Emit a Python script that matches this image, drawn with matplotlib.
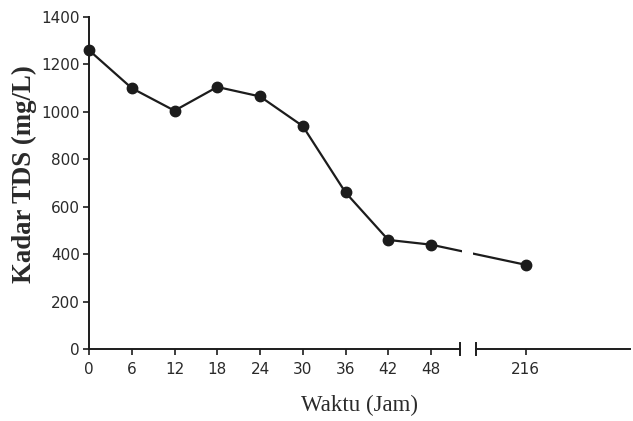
import numpy as np
import matplotlib.pyplot as plt

# data
waktu = [0, 6, 12, 18, 24, 30, 36, 42, 48, 216]
tds = [1260, 1100, 1005, 1105, 1065, 940, 660, 460, 440, 355]
xtick_labels = ["0", "6", "12", "18", "24", "30", "36", "42", "48", "216"]
yticks = [0, 200, 400, 600, 800, 1000, 1200, 1400]

# broken x axis: hours past 48 get shifted next to the break
BREAK_LO, BREAK_HI = 52.1, 54.3
POS_216 = 61.3
XMAX = 75.9


def ke_posisi(h):
    h = np.asarray(h, dtype=float)
    return np.where(h <= 48, h, h - 216 + POS_216)


warna = "#1c1c1c"
sans = ["DejaVu Sans"]
serif = ["Liberation Serif", "DejaVu Serif"]

fig = plt.figure(figsize=(6.33, 4.21), dpi=100)
ax = fig.add_axes([0.1406, 0.171, 0.995 - 0.1406, 0.9596 - 0.171])

x = ke_posisi(waktu)
ax.plot(x, tds, color=warna, lw=1.6, zorder=2, clip_on=False)
# gap in the line where the axis is broken
ax.axvspan(52.35, 53.9, ymin=0.05, ymax=1, color="white", zorder=3, lw=0)
ax.plot(x, tds, "o", color=warna, ms=7.5, zorder=4, clip_on=False)

ax.set_xlim(0, XMAX)
ax.set_ylim(0, 1400)

ax.spines["top"].set_visible(False)
ax.spines["right"].set_visible(False)
ax.spines["bottom"].set_visible(False)
ax.spines["left"].set_color(warna)
ax.spines["left"].set_linewidth(1.4)

# bottom axis drawn in two pieces with break marks
tr = ax.get_xaxis_transform()
kw = dict(color=warna, lw=1.4, transform=tr, clip_on=False, zorder=5)
ax.plot([0, BREAK_LO], [0, 0], **kw)
ax.plot([BREAK_HI, XMAX], [0, 0], **kw)
for bx in (BREAK_LO, BREAK_HI):
    ax.plot([bx, bx], [-0.018, 0.018], **kw)

ax.set_xticks(ke_posisi(waktu))
ax.set_xticklabels(xtick_labels, fontfamily=sans, fontsize=11, color="#2a2a2a")
ax.set_yticks(yticks)
ax.set_yticklabels([str(v) for v in yticks], fontfamily=sans, fontsize=11, color="#2a2a2a")
ax.tick_params(axis="both", direction="out", length=4.5, width=1.2, color=warna)
ax.tick_params(axis="x", pad=5)
ax.tick_params(axis="y", pad=2)

ax.set_xlabel("Waktu (Jam)", fontfamily=serif, fontsize=16.5, color="#2a2a2a", labelpad=13)
ax.set_ylabel("Kadar TDS (mg/L)", fontfamily=serif, fontsize=19.3, fontweight="bold",
              color="#2a2a2a")
ax.yaxis.set_label_coords(-0.096, 0.527)

fig.savefig("out.png", dpi=100)
